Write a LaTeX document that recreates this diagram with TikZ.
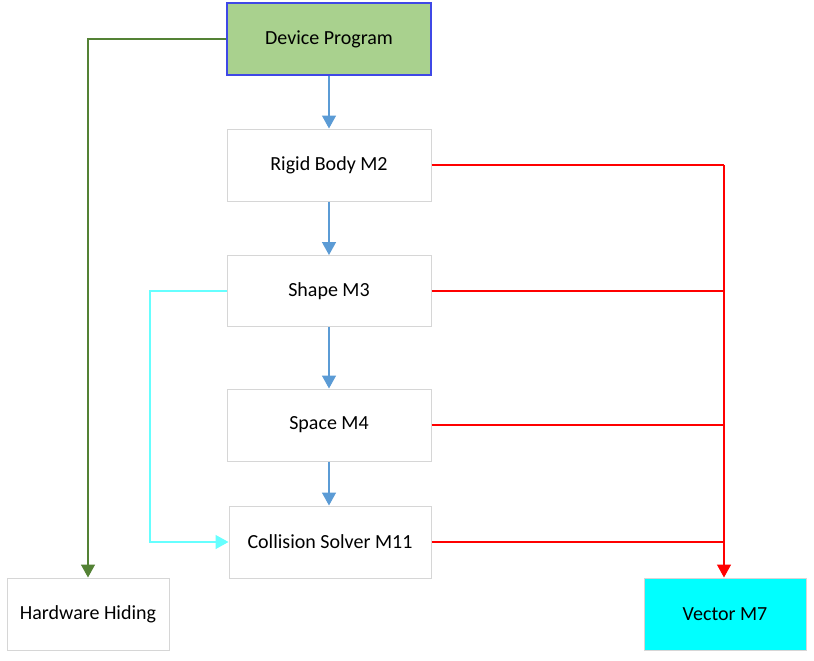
\documentclass[tikz,border=0pt]{standalone}
\usepackage{fontspec}
\setmainfont{Carlito}
\usetikzlibrary{arrows.meta}
\definecolor{boxline}{HTML}{D6D6D6}
\definecolor{devfill}{HTML}{A9D18E}
\definecolor{devline}{HTML}{3F48E6}
\definecolor{flowblue}{HTML}{5B9BD5}
\definecolor{hwgreen}{HTML}{548235}
\definecolor{lightcyan}{HTML}{66FFFF}
\definecolor{vecfill}{HTML}{00FFFF}
\tikzset{
  modbox/.style={draw=boxline, line width=1pt, fill=white, font=\fontsize{20}{24}\selectfont, text=black},
  tip/.style={-{Triangle[length=13pt,width=14pt]}},
  blueflow/.style={tip, draw=flowblue, line width=1.5pt},
  redflow/.style={draw=red, line width=1.5pt},
}
\begin{document}
\begin{tikzpicture}[x=1pt,y=-1pt]
\useasboundingbox (0,0) rectangle (814,661);
% boxes (corners in pixel coords)
\node[modbox, fill=devfill, draw=devline, line width=1.3pt, minimum width=204pt, minimum height=72pt] (dev) at (329,39) {Device Program};
\node[modbox, minimum width=204pt, minimum height=72pt] (rigid) at (329,165) {Rigid Body M2};
\node[modbox, minimum width=204pt, minimum height=71pt] (shape) at (329,291) {Shape M3};
\node[modbox, minimum width=204pt, minimum height=72pt] (space) at (329,425) {Space M4};
\node[modbox, minimum width=202pt, minimum height=72pt] (coll) at (330,542) {Collision Solver M11};
\node[modbox, minimum width=162pt, minimum height=72pt] (hw) at (88,614) {Hardware Hiding};
\node[modbox, fill=vecfill, minimum width=162pt, minimum height=72pt] (vec) at (725,614) {Vector M7};
% coordinates
\coordinate (gcorner) at (88,39);
\coordinate (cy1) at (150,291);
\coordinate (cy2) at (150,542);
\coordinate (rjoin) at (724,165);
\coordinate (rj2) at (724,291);
\coordinate (rj3) at (724,425);
\coordinate (rj4) at (724,542);
% blue flow
\draw[blueflow] (dev.south) -- (rigid.north);
\draw[blueflow] (rigid.south) -- (shape.north);
\draw[blueflow] (shape.south) -- (space.north);
\draw[blueflow] (space.south) -- (space.south |- coll.north);
% green
\draw[tip, draw=hwgreen, line width=1.5pt] (dev.west) -- (gcorner) -- (hw.north -| gcorner);
% cyan
\draw[tip, draw=lightcyan, line width=1.5pt] (shape.west) -- (cy1) -- (cy2) -- (coll.west);
% red
\draw[redflow] (rigid.east) -- (rjoin);
\draw[redflow] (shape.east) -- (rj2);
\draw[redflow] (space.east) -- (rj3);
\draw[redflow] (coll.east) -- (rj4);
\draw[redflow, tip] (rjoin) -- (vec.north -| rjoin);
\end{tikzpicture}
\end{document}
